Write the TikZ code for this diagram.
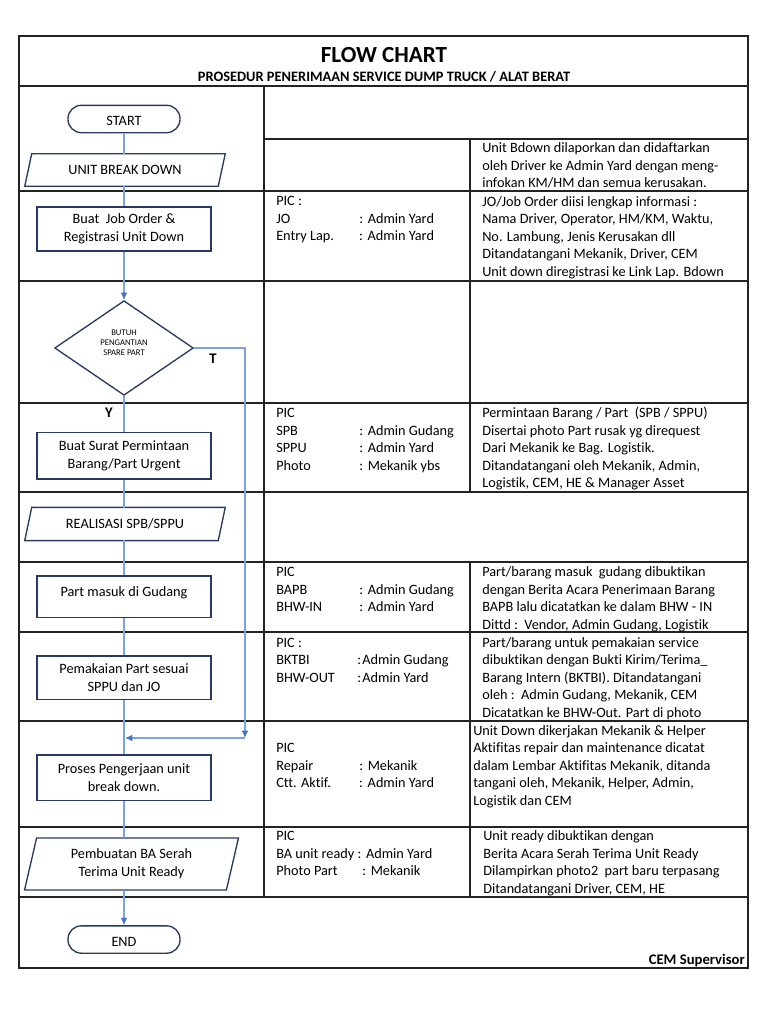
\documentclass[tikz,border=0pt]{standalone}
\usepackage{fontspec}
\setmainfont{Carlito}[Ligatures=NoCommon]
\usetikzlibrary{shapes.geometric,arrows.meta}
\definecolor{navy}{RGB}{40,58,98}
\definecolor{conn}{RGB}{125,162,230}
\definecolor{arrc}{RGB}{68,114,196}
\definecolor{gridc}{RGB}{35,35,35}
\newcommand\LB[2]{\makebox[#1][l]{#2}}
\newcommand\Lines[4]{\foreach \t [count=\i from 0] in {#4} {\node[txt] (#1-\i) at (#2,{#3+\i*17.6}) {\t};}}
\begin{document}
\begin{tikzpicture}[x=0.75pt,y=-0.75pt,
  txt/.style={anchor=base west,inner sep=0,font=\fontsize{10.7}{13}\selectfont},
  proc/.style={draw=navy,line width=1pt,align=center,inner sep=0,font=\fontsize{10.7}{13.3}\selectfont,minimum width=130.5pt},
  term/.style={draw=navy,line width=1pt,rounded corners=10pt,minimum width=84pt,minimum height=20.5pt,inner sep=0,text height=10pt,text depth=0pt,font=\fontsize{10.7}{13}\selectfont},
  io/.style={inner sep=0,align=center,font=\fontsize{10.7}{13.3}\selectfont},
  iobox/.style={draw=navy,line width=1pt},
  flow/.style={draw=conn,line width=0.8pt},
  arr/.style={flow,-{Latex[length=5.5pt,width=5pt,color=arrc]}},
  gridl/.style={draw=gridc,line width=1.1pt},
  lbl/.style={inner sep=0,font=\bfseries\fontsize{11}{13}\selectfont}]
\useasboundingbox[fill=white] (0,0) rectangle (768,1024);
% table
\draw[gridl] (19,36) rectangle (748,968);
\draw[gridl] (19,86) -- (748,86);
\draw[gridl] (264,139) -- (748,139);
\foreach \yy in {191,281,403,492,562,632,721,827,897} {\draw[gridl] (19,\yy) -- (748,\yy);}
\draw[gridl] (264,86) -- (264,897);
\draw[gridl] (470,139) -- (470,492);
\draw[gridl] (470,562) -- (470,897);
% header
\node[inner sep=0,font=\bfseries\fontsize{17.3}{20}\selectfont] (title) at (384,55) {FLOW CHART};
\node[inner sep=0,font=\bfseries\fontsize{10.8}{12}\selectfont] (subtitle) at (384,77) {PROSEDUR PENERIMAAN SERVICE DUMP TRUCK / ALAT BERAT};
% flow shapes
\node[term] (start) at (124,119) {START};
\node[io,minimum width=150pt,minimum height=24pt] (ubd) at (125,170) {UNIT BREAK DOWN};
\draw[iobox] ([xshift=5.25pt]ubd.north west) -- (ubd.north east) -- ([xshift=-5.25pt]ubd.south east) -- (ubd.south west) -- cycle;
\node[proc,minimum height=33pt] (jo) at (124,229) {Buat\ \ Job Order \&\\Registrasi Unit Down};
\node[draw=navy,line width=1pt,diamond,aspect=1.46,minimum width=104pt,minimum height=71pt,inner sep=0] (dia) at (124,348) {};
\node[inner sep=0,align=center,font=\fontsize{6.5}{7.5}\selectfont] (diat) at (124,343) {BUTUH\\PENGANTIAN\\SPARE PART};
\node[lbl] (tlab) at (213,359) {T};
\node[lbl] (ylab) at (109,413) {Y};
\node[proc,minimum height=35pt] (sur) at (124,455.5) {Buat Surat Permintaan\\Barang/Part Urgent};
\node[io,minimum width=150pt,minimum height=24.5pt] (real) at (125,524) {REALISASI SPB/SPPU};
\draw[iobox] ([xshift=5.25pt]real.north west) -- (real.north east) -- ([xshift=-5.25pt]real.south east) -- (real.south west) -- cycle;
\node[proc,minimum height=31pt,text depth=8pt] (gud) at (124,596.5) {Part masuk di Gudang};
\node[proc,minimum height=32.5pt] (pem) at (124,677.5) {Pemakaian Part sesuai\\SPPU dan JO};
\node[proc,minimum height=34pt] (pro) at (124,777.5) {Proses Pengerjaan unit\\break down.};
\node[io,minimum width=160pt,minimum height=38.5pt] (ba) at (131.5,864) {Pembuatan BA Serah\\Terima Unit Ready};
\draw[iobox] ([xshift=9pt]ba.north west) -- (ba.north east) -- ([xshift=-9pt]ba.south east) -- (ba.south west) -- cycle;
\node[term] (end) at (124,939.5) {END};
% connectors
\coordinate (ubdn) at (124,154);
\coordinate (ubds) at (124,186);
\coordinate (realn) at (124,507.7);
\coordinate (reals) at (124,540.3);
\coordinate (ban) at (124,838.3);
\coordinate (bas) at (124,889.7);
\coordinate (tj) at (245,738);
\coordinate (mj) at (125,738);
\draw[flow] (start.south) -- (ubdn);
\draw[flow] (ubds) -- (jo.north);
\draw[arr] (jo.south) -- (dia.north);
\draw[flow] (dia.south) -- (sur.north);
\draw[flow] (sur.south) -- (realn);
\draw[flow] (reals) -- (gud.north);
\draw[flow] (gud.south) -- (pem.north);
\draw[flow] (pem.south) -- (pro.north);
\draw[flow] (pro.south) -- (ban);
\draw[arr] (bas) -- (end.north);
\draw[arr] (dia.east) -| (tj);
\draw[arr] (tj) -- (mj);
% middle column
\Lines{m2}{276}{205.5}{{PIC :},{\LB{62.25pt}{JO}:\hspace{3.5pt}Admin Yard},{\LB{62.25pt}{Entry Lap.}:\hspace{3.5pt}Admin Yard}}
\Lines{m4}{276}{417.5}{{PIC},{\LB{62.25pt}{SPB}:\hspace{3.5pt}Admin Gudang},{\LB{62.25pt}{SPPU}:\hspace{3.5pt}Admin Yard},{\LB{62.25pt}{Photo}:\hspace{3.5pt}Mekanik ybs}}
\Lines{m6}{276}{576.5}{{PIC},{\LB{62.25pt}{BAPB}:\hspace{3.5pt}Admin Gudang},{\LB{62.25pt}{BHW-IN}:\hspace{3.5pt}Admin Yard}}
\Lines{m7}{276}{647}{{PIC :},{\LB{60.75pt}{BKTBI}:\hspace{1pt}Admin Gudang},{\LB{60.75pt}{BHW-OUT}:\hspace{1pt}Admin Yard}}
\Lines{m8}{276}{752.5}{{PIC},{\LB{62.25pt}{Repair}:\hspace{3.5pt}Mekanik},{\LB{62.25pt}{Ctt. Aktif.}:\hspace{3.5pt}Admin Yard}}
\Lines{m9}{276}{840.5}{{PIC},{BA unit ready :\hspace{3.5pt}Admin Yard},{\LB{64.5pt}{Photo Part}:\hspace{3.5pt}Mekanik}}
% right column
\Lines{r1}{482}{152.5}{{Unit Bdown dilaporkan dan didaftarkan},{oleh Driver ke Admin Yard dengan meng-},{infokan KM/HM dan semua kerusakan.}}
\Lines{r2}{482}{206}{{JO/Job Order diisi lengkap informasi :},{Nama Driver, Operator, HM/KM, Waktu,},{No. Lambung, Jenis Kerusakan dll},{Ditandatangani Mekanik, Driver, CEM},{Unit down diregistrasi ke Link Lap. Bdown}}
\Lines{r4}{482}{417.5}{{Permintaan Barang / Part\ \ (SPB / SPPU)},{Disertai photo Part rusak yg direquest},{Dari Mekanik ke Bag. Logistik.},{Ditandatangani oleh Mekanik, Admin,},{Logistik, CEM, HE \& Manager Asset}}
\Lines{r6}{482}{576.5}{{Part/barang masuk\ \ gudang dibuktikan},{dengan Berita Acara Penerimaan Barang},{BAPB lalu dicatatkan ke dalam BHW - IN},{Dittd :\ \ Vendor, Admin Gudang, Logistik}}
\Lines{r7}{482}{647}{{Part/barang untuk pemakaian service},{dibuktikan dengan Bukti Kirim/Terima\_},{Barang Intern (BKTBI). Ditandatangani},{oleh :\ \ Admin Gudang, Mekanik, CEM},{Dicatatkan ke BHW-Out. Part di photo}}
\Lines{r8}{473}{735}{{Unit Down dikerjakan Mekanik \& Helper},{Aktifitas repair dan maintenance dicatat},{dalam Lembar Aktifitas Mekanik, ditanda},{tangani oleh, Mekanik, Helper, Admin,},{Logistik dan CEM}}
\Lines{r9}{483}{840.5}{{Unit ready dibuktikan dengan},{Berita Acara Serah Terima Unit Ready},{Dilampirkan photo2\ \ part baru terpasang},{Ditandatangani Driver, CEM, HE}}
\node[lbl,anchor=base east] (cem) at (745,964) {CEM Supervisor};
\end{tikzpicture}
\end{document}
